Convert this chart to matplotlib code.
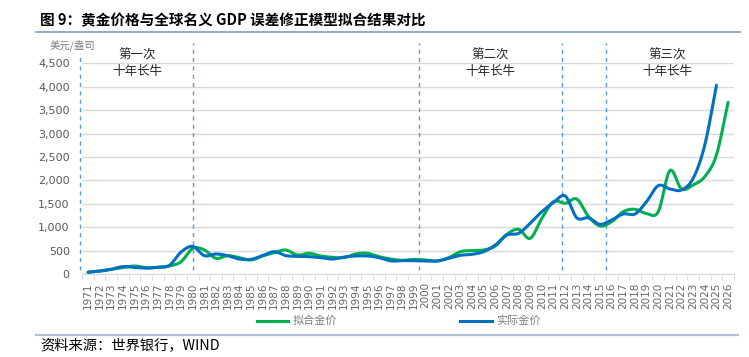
import numpy as np
import matplotlib
matplotlib.use("Agg")
import matplotlib.pyplot as plt
from matplotlib.lines import Line2D

CJK = ['Noto Sans CJK SC', 'DejaVu Sans']

years = [str(y) for y in range(1971, 2027)]

# 实际金价 (1971-2025)
actual = [40, 60, 100, 158, 140, 125, 145, 185, 470, 590,
          392, 427, 392, 320, 313, 392, 477, 392, 378, 370,
          349, 320, 363, 385, 385, 349, 280, 285, 285, 278,
          278, 335, 399, 420, 477, 620, 833, 869, 1083, 1332,
          1524, 1667, 1200, 1200, 1061, 1154, 1282, 1282, 1546, 1887,
          1816, 1795, 2044, 2756, 4031]

# 拟合金价 (1971-2026)
fitted = [36, 64, 100, 135, 171, 135, 142, 171, 263, 548,
          513, 335, 392, 349, 299, 385, 456, 513, 406, 442,
          385, 356, 349, 427, 442, 370, 320, 292, 313, 299,
          278, 349, 477, 499, 513, 598, 850, 954, 762, 1190,
          1546, 1510, 1600, 1232, 1026, 1118, 1332, 1382, 1290, 1330,
          2208, 1816, 1902, 2080, 2543, 3668]

bull_lines = [-0.7, 9, 28.4, 40.7, 44.5]
bull_tops = [1.049, 1.097, 1.097, 1.097, 1.097]
bull_text = [(137, '第一次\n十年长牛'), (490, '第二次\n十年长牛'), (667, '第三次\n十年长牛')]


def smooth(vals, n=24):
    # Excel style smoothed line (Catmull-Rom through the points)
    y = np.asarray(vals, dtype=float)
    x = np.arange(len(y), dtype=float)
    xs, ys = [], []
    t = np.linspace(0, 1, n)
    for i in range(len(y) - 1):
        i0 = max(i - 1, 0)
        i3 = min(i + 2, len(y) - 1)
        for arr, out in ((x, xs), (y, ys)):
            p0, p1, p2, p3 = arr[i0], arr[i], arr[i + 1], arr[i3]
            c1 = p1 + (p2 - p0) / 6
            c2 = p2 - (p3 - p1) / 6
            seg = ((1 - t) ** 3 * p1 + 3 * (1 - t) ** 2 * t * c1
                   + 3 * (1 - t) * t ** 2 * c2 + t ** 3 * p2)
            out.extend(seg if i == 0 else seg[1:])
    return np.array(xs), np.array(ys)


W, H = 749, 357
fig = plt.figure(figsize=(W / 100, H / 100), dpi=100)
ax = fig.add_axes([82.2 / W, 1 - 274 / H, (733.9 - 82.2) / W, (274 - 63.3) / H])

grid_c = '#D9D9D9'
ax.set_ylim(0, 4500)
ax.set_xlim(-0.5, len(years) - 0.5)
ax.set_yticks(range(0, 4501, 500))
ax.set_yticklabels([f'{v:,}' for v in range(0, 4501, 500)])
ax.yaxis.grid(True, color=grid_c, linewidth=1)
ax.set_axisbelow(True)
for s in ['top', 'right', 'left']:
    ax.spines[s].set_visible(False)
ax.spines['bottom'].set_color(grid_c)
ax.tick_params(axis='y', length=0, pad=9, labelsize=8, labelcolor='#595959')

ax.set_xticks(range(len(years)))
ax.set_xticklabels(years, rotation=90)
ax.set_xticks(np.arange(-0.5, len(years)), minor=True)
ax.tick_params(axis='x', which='major', length=0, pad=6, labelsize=7.5, labelcolor='#666666')
ax.tick_params(axis='x', which='minor', length=4, color=grid_c)

gx, gy = smooth(fitted)
bx, by = smooth(actual)
ax.plot(gx, gy, color='#00B050', linewidth=2.2, solid_capstyle='round', zorder=3)
ax.plot(bx, by, color='#0070C0', linewidth=2.2, solid_capstyle='round', zorder=4)

for xv, top in zip(bull_lines, bull_tops):
    ax.axvline(xv, ymin=0.02, ymax=top, color='#5B9BD5', linestyle=(0, (3, 3)),
               linewidth=1, clip_on=False, zorder=2)

for xp, txt in bull_text:
    fig.text(xp / W, 1 - 49 / H, txt, ha='center', va='top', fontsize=9,
             family=CJK, color='#262626', linespacing=1.35)

fig.text(50 / W, 1 - 45 / H, '美元/盎司', ha='left', va='center', fontsize=7.5,
         family=CJK, color='#7F7F7F', style='italic')

# title and frame lines
fig.text(40 / W, 1 - 20 / H, '图 9：黄金价格与全球名义 GDP 误差修正模型拟合结果对比',
         ha='left', va='center', fontsize=10.5, fontweight='bold', family=CJK, color='black')
fig.add_artist(Line2D([36 / W, 740 / W], [1 - 32 / H] * 2, color='#7F9DB9', linewidth=1.2))
fig.add_artist(Line2D([36 / W, 738 / W], [1 - 335 / H] * 2, color='#B4C3D3', linewidth=1.6))
fig.text(40 / W, 1 - 345 / H, '资料来源：世界银行，WIND', ha='left', va='center',
         fontsize=10.3, family=CJK, color='black')

# legend
fig.add_artist(Line2D([257 / W, 288 / W], [1 - 321 / H] * 2, color='#00B050', linewidth=2.2))
fig.text(293 / W, 1 - 321 / H, '拟合金价', ha='left', va='center', fontsize=8,
         family=CJK, color='#7F7F7F')
fig.add_artist(Line2D([460 / W, 492 / W], [1 - 321 / H] * 2, color='#0070C0', linewidth=2.2))
fig.text(496 / W, 1 - 321 / H, '实际金价', ha='left', va='center', fontsize=8,
         family=CJK, color='#7F7F7F')

fig.savefig('out.png', dpi=100)
